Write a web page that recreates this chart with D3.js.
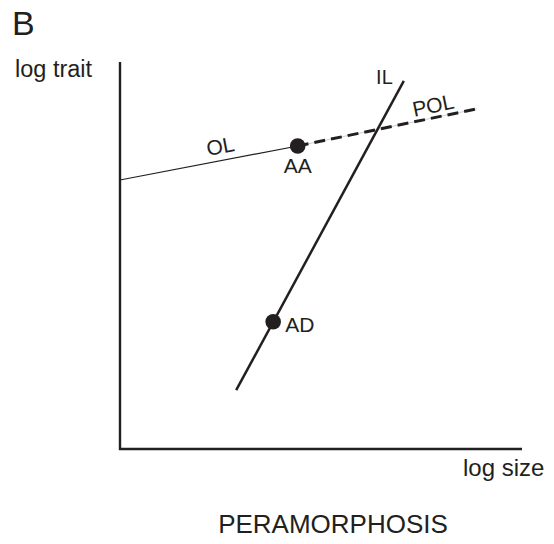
<!DOCTYPE html>
<html>
<head>
<meta charset="utf-8">
<script src="https://cdn.jsdelivr.net/npm/d3@7"></script>
<style>
  body { margin: 0; background: #fff; }
  text { font-family: "Liberation Sans", Arial, sans-serif; fill: #231f20; }
</style>
</head>
<body>
<script>
// Schematic values (arbitrary log units, 0..100 on both axes)
var olLine  = [[0, 69.5], [44.2, 78.3]];     // ontogenetic line
var polLine = [[44.2, 78.3], [88.8, 87.9]];  // peramorphic extension
var ilLine  = [[28.9, 15.2], [70.6, 95.1]];  // interspecific line
var points  = [
    { name: "AA", x: 44.2, y: 78.3 },
    { name: "AD", x: 38.1, y: 32.9 }
];
var axisLabels = { x: "log size", y: "log trait" };
var panel = "B",
    title = "PERAMORPHOSIS";

var width = 554, height = 544;
var ink = "#231f20";

var svg = d3.select("body").
            append("svg").
            attr("width", width).
            attr("height", height);

var x = d3.scaleLinear().domain([0, 100]).range([120, 522]),
    y = d3.scaleLinear().domain([0, 100]).range([449, 62]);

// Axes: plain L shape, no ticks
svg.append("path").
    attr("d", "M" + x(0) + "," + y(100) + "V" + y(0) + "H" + x(100)).
    attr("fill", "none").
    attr("stroke", ink).
    attr("stroke-width", 2.4);

var line = d3.line().
            x(function (d) { return x(d[0]); }).
            y(function (d) { return y(d[1]); });

svg.append("path").datum(olLine).
    attr("d", line).
    attr("fill", "none").
    attr("stroke", ink).
    attr("stroke-width", 1.2);

// faint hairline under the dashes
svg.append("path").datum(polLine).
    attr("d", line).
    attr("fill", "none").
    attr("stroke", "#b0b0b0").
    attr("stroke-width", 0.6);

svg.append("path").datum(polLine).
    attr("d", line).
    attr("fill", "none").
    attr("stroke", ink).
    attr("stroke-width", 3).
    attr("stroke-dasharray", "11,6");

svg.append("path").datum(ilLine).
    attr("d", line).
    attr("fill", "none").
    attr("stroke", ink).
    attr("stroke-width", 2.5);

svg.selectAll("circle.pt").data(points).
    enter().append("circle").
    attr("class", "pt").
    attr("cx", function (d) { return x(d.x); }).
    attr("cy", function (d) { return y(d.y); }).
    attr("r", 7.8).
    attr("fill", ink);

// Labels on segments, rotated along the line
function segLabel(seg, t, txt, off) {
    var x0 = x(seg[0][0]), y0 = y(seg[0][1]),
        x1 = x(seg[1][0]), y1 = y(seg[1][1]);
    var px = x0 + (x1 - x0) * t,
        py = y0 + (y1 - y0) * t,
        ang = Math.atan2(y1 - y0, x1 - x0) * 180 / Math.PI;
    svg.append("text").
        attr("transform", "translate(" + px + "," + py + ") rotate(" + ang + ")").
        attr("text-anchor", "middle").
        attr("dy", off).
        style("font-size", "21px").
        text(txt);
}
segLabel(olLine, 0.58, "OL", -7);
segLabel(polLine, 0.77, "POL", -5);

svg.append("text").
    attr("x", x(ilLine[1][0]) - 11).
    attr("y", y(ilLine[1][1]) + 3).
    attr("text-anchor", "end").
    style("font-size", "20px").
    text("IL");

svg.append("text").
    attr("x", x(points[0].x)).
    attr("y", y(points[0].y) + 27).
    attr("text-anchor", "middle").
    style("font-size", "21px").
    text(points[0].name);

svg.append("text").
    attr("x", x(points[1].x) + 12).
    attr("y", y(points[1].y) + 10).
    style("font-size", "21px").
    text(points[1].name);

// Axis titles, panel letter and caption
svg.append("text").
    attr("x", 15).attr("y", 77).
    style("font-size", "23.5px").
    text(axisLabels.y);

svg.append("text").
    attr("x", 463).attr("y", 476).
    style("font-size", "24px").
    text(axisLabels.x);

svg.append("text").
    attr("x", 12).attr("y", 35).
    style("font-size", "34px").
    text(panel);

svg.append("text").
    attr("x", 333).attr("y", 533).
    attr("text-anchor", "middle").
    style("font-size", "26px").
    text(title);
</script>
</body>
</html>
